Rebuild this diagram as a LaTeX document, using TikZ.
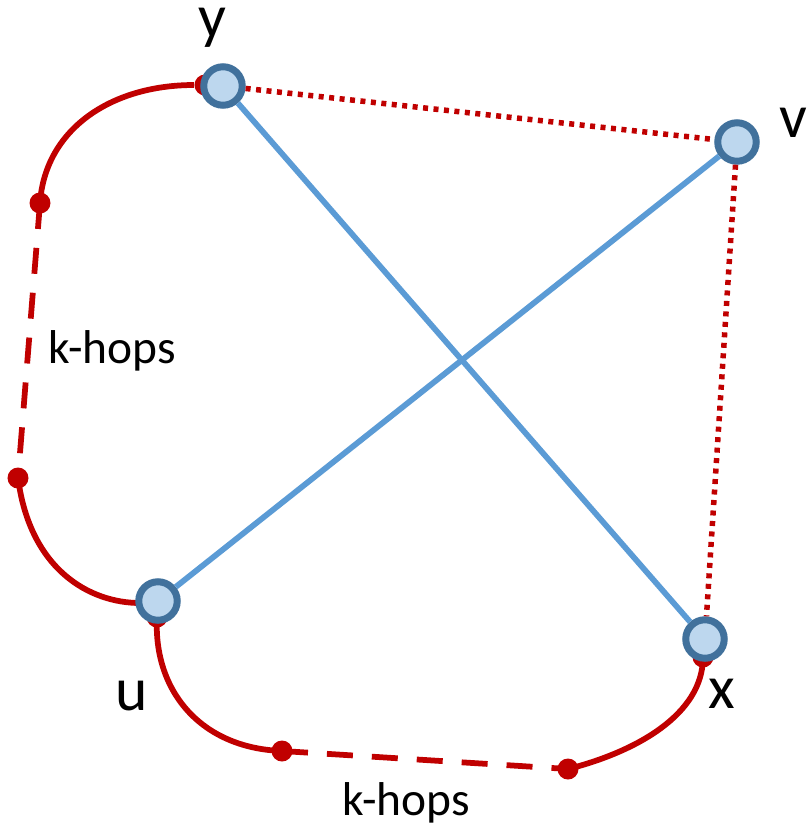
\documentclass[tikz,border=0pt]{standalone}
\usepackage{fontspec}
\setmainfont{Carlito}
\usepackage{xcolor}
\usepackage{tikz}
\usetikzlibrary{arrows.meta,positioning,calc}
\definecolor{hopred}{RGB}{192,0,0}
\definecolor{linkblue}{RGB}{91,155,213}
\definecolor{vtxfill}{RGB}{189,215,238}
\definecolor{vtxline}{RGB}{65,113,156}
\tikzset{vertex/.style={circle, draw=vtxline, line width=1.4mm, fill=vtxfill, inner sep=0pt, minimum size=7.7mm}, hopdot/.style={circle, fill=hopred, inner sep=0pt, minimum size=4.2mm}, hop/.style={draw=hopred, line width=1.15mm}, hopdash/.style={hop, dash pattern=on 5.2mm off 3.8mm}, shortcut/.style={draw=hopred, line width=1.1mm, dash pattern=on 1mm off 1.1mm}, link/.style={draw=linkblue, line width=1.15mm}, vlabel/.style={font=\fontsize{35}{40}\selectfont, anchor=base, inner sep=0pt}, hoplabel/.style={font=\fontsize{27}{30}\selectfont, anchor=base, inner sep=0pt}}

\begin{document}
\begin{tikzpicture}[x=0.2mm, y=-0.2mm]
\useasboundingbox (0,0) rectangle (807,829);
% endpoints of the two k-hop paths
\node[hopdot] (ya) at (205,85) {};
\node[hopdot] (y1) at (40,203) {};
\node[hopdot] (y2) at (18,478) {};
\coordinate (ua) at (140,603);
\node[hopdot] (ub) at (157,617) {};
\node[hopdot] (u1) at (282,751) {};
\node[hopdot] (x1) at (568,769) {};
\node[hopdot] (xa) at (703,657) {};
\draw[hop] (ya) .. controls (110,85) and (45,130) .. (y1.center);
\draw[hopdash] (y1.center) -- (y2.center);
\draw[hop] (y2.center) .. controls (30,570) and (90,603) .. (ua);
\draw[hop] (ub.center) .. controls (153,690) and (200,748) .. (u1.center);
\draw[hopdash] (u1.center) -- (x1.center);
\draw[hop] (x1.center) .. controls (635,752) and (703,715) .. (xa.center);
% the four vertices
\node[vertex] (y) at (223,86) {};
\node[vertex] (v) at (737,142) {};
\node[vertex] (u) at (158,601) {};
\node[vertex] (x) at (705,639) {};
\draw[shortcut] (y) -- (v);
\draw[shortcut] (v) -- (x);
\draw[link] (y) -- (x);
\draw[link] (v) -- (u);
\node[vlabel] (ylab) at (212,37) {y};
\node[vlabel] (vlab) at (793,137) {v};
\node[vlabel] (ulab) at (132,710) {u};
\node[vlabel] (xlab) at (722,708) {x};
\node[hoplabel] (hopsl) at (112,363) {k-hops};
\node[hoplabel] (hopsb) at (406,815) {k-hops};
\end{tikzpicture}
\end{document}
